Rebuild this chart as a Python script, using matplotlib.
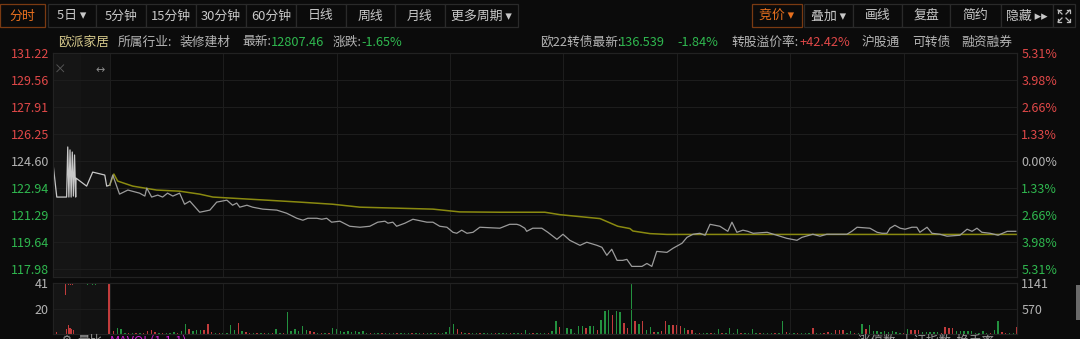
import matplotlib
matplotlib.use("Agg")
import matplotlib.pyplot as plt
from matplotlib.lines import Line2D
from matplotlib.patches import Rectangle

plt.rcParams["font.family"] = ["Noto Sans CJK SC", "DejaVu Sans"]
plt.rcParams["axes.unicode_minus"] = False

W, H = 1080, 339
BG = "#0b0b0b"
RED = "#e04848"
GREEN = "#2fb84f"
TXT = "#b4b4b4"
GRID = "#1d1d1d"
ORANGE = "#e8701e"
BAR_UP = "#c23c3c"
BAR_DN = "#23913f"

# ---- data ----
prev_close = 124.60
price_ticks = [117.98, 119.64, 121.29, 122.94, 124.60, 126.25, 127.91, 129.56, 131.22]
pct_labels = ["5.31%", "3.98%", "2.66%", "1.33%", "0.00%", "1.33%", "2.66%", "3.98%", "5.31%"]
vol_ticks_left = [20, 41]
vol_ticks_right = [570, 1141]

# call auction (9:15-9:30), minutes relative to 9:30
auction_t = [-15.1, -14.0, -11.4, -11.1, -10.8, -10.5, -10.2, -9.9, -9.6, -9.3, -9.0,
             -8.9, -6.1, -4.5, -1.3, -0.8, 0.0]
auction_p = [124.66, 122.39, 122.39, 125.46, 122.39, 125.28, 122.39, 125.15, 122.45, 124.97,
             122.39, 123.55, 123.06, 123.92, 123.74, 123.06, 123.12]

# intraday price (minutes after open)
price_t = [0, 0.8, 2.6, 4.8, 7.9, 9.3, 9.8, 11.1, 12.7, 14.0, 15.3, 16.7, 18.5, 19.8, 21.2,
           23.8, 26.5, 28.3, 31.0, 32.5, 33.6, 34.4, 36.3, 37.8, 40.5, 44.2, 46.8, 49.5,
           51.1, 52.4, 54.8, 56.1, 57.4, 58.7, 60.9, 63.5, 66.2, 68.8, 70.9, 72.8, 73.6,
           74.9, 75.9, 78.1, 80.2, 83.9, 85.5, 87.3, 89.2, 90.8, 91.8, 93.1, 94.5, 96.1,
           97.9, 103.2, 105.1, 105.8, 107.7, 108.5, 109.8, 110.3, 111.9, 114.3, 115.9,
           118.3, 119.9, 121.7, 124.4, 126.2, 128.9, 130.2, 131.5, 132.8, 134.2, 135.7,
           136.8, 138.1, 139.5, 140.8, 142.1, 143.4, 144.7, 147.4, 149.0, 151.4, 152.7,
           154.3, 156.1, 157.5, 158.8, 161.4, 163.5, 164.6, 165.9, 167.5, 168.8, 170.2,
           173.9, 176.5, 177.3, 179.1, 181.8, 183.1, 186.0, 187.9, 189.7, 193.2, 195.0,
           196.3, 197.7, 201.1, 203.0, 204.3, 205.6, 206.4, 207.7, 209.1, 210.4, 212.2,
           213.5, 214.3, 215.1, 216.2, 217.5, 219.6, 221.5, 224.9, 226.8, 228.1, 229.4,
           230.7, 232.9, 235.0, 237.4, 239.7]
price_p = [123.12, 123.74, 122.57, 122.82, 122.63, 122.45, 122.94, 122.39, 122.51, 122.39,
           122.63, 122.45, 122.63, 121.95, 122.14, 121.46, 121.59, 122.08, 122.20, 121.89,
           122.02, 121.77, 121.89, 121.77, 121.65, 121.59, 121.40, 121.09, 120.97, 121.09,
           121.09, 121.03, 121.09, 120.85, 120.91, 120.60, 120.54, 120.60, 120.85, 120.91,
           120.79, 120.85, 120.60, 120.79, 121.03, 120.85, 120.85, 120.60, 120.54, 120.23,
           120.17, 120.36, 120.17, 120.23, 120.54, 120.48, 120.66, 120.72, 120.72, 120.66,
           120.48, 120.29, 120.48, 120.48, 120.23, 119.80, 120.11, 119.74, 119.43, 119.62,
           119.43, 119.31, 118.82, 119.19, 118.51, 118.51, 118.57, 118.14, 118.14, 118.14,
           118.32, 118.14, 119.06, 119.00, 119.25, 119.56, 119.92, 120.11, 120.17, 120.05,
           120.72, 120.60, 120.29, 120.85, 120.23, 120.36, 120.29, 120.17, 120.23, 120.05,
           119.99, 119.86, 119.74, 119.92, 120.11, 119.99, 120.11, 120.11, 120.11, 120.29,
           120.54, 120.48, 120.23, 120.17, 120.17, 120.48, 120.66, 120.48, 120.42, 120.54,
           120.54, 120.23, 120.36, 120.54, 120.17, 120.11, 119.99, 120.05, 120.42, 120.29,
           120.48, 120.23, 120.17, 120.05, 120.29, 120.29]

# average price line
avg_t = [0, 1.1, 2.1, 6.1, 12.4, 18.5, 23.8, 27.3, 32.5, 41.5, 50.3, 59.0, 66.2, 85.5,
         92.6, 103.2, 115.1, 119.1, 129.7, 134.4, 137.6, 138.4, 142.9, 147.4, 240]
avg_p = [123.12, 123.80, 123.37, 123.06, 122.82, 122.75, 122.57, 122.39, 122.32, 122.20,
         122.08, 121.95, 121.77, 121.65, 121.48, 121.46, 121.46, 121.31, 121.07, 120.60,
         120.46, 120.31, 120.15, 120.10, 120.10]

# per-minute volume (minute 1..240) and direction (r = up, g = down)
volume = [
    69, 130, 107, 30, 25, 30, 20, 25, 30, 69,
    84, 40, 25, 20, 30, 25, 35, 30, 69, 222,
    115, 60, 84, 92, 84, 222, 50, 25, 30, 20,
    30, 207, 92, 253, 69, 50, 25, 20, 30, 25,
    20, 25, 30, 115, 20, 30, 498, 69, 107, 69,
    169, 92, 69, 50, 25, 30, 20, 25, 130, 115,
    60, 50, 60, 55, 60, 50, 60, 30, 25, 20,
    25, 20, 25, 30, 20, 25, 20, 25, 30, 20,
    25, 30, 20, 25, 30, 25, 20, 30, 40, 146,
    222, 115, 40, 30, 25, 30, 25, 20, 25, 30,
    25, 20, 30, 25, 20, 30, 25, 20, 25, 92,
    30, 25, 20, 30, 25, 30, 77, 283, 146, 50,
    130, 115, 30, 169, 169, 130, 169, 169, 92, 306,
    513, 536, 421, 513, 490, 245, 130, 1141, 283, 222,
    283, 92, 146, 50, 40, 69, 283, 207, 192, 207,
    169, 130, 92, 92, 30, 25, 30, 20, 25, 30,
    115, 30, 25, 130, 30, 115, 25, 30, 20, 115,
    30, 25, 20, 30, 25, 20, 30, 283, 50, 30,
    25, 20, 30, 25, 20, 130, 30, 25, 20, 50,
    30, 92, 92, 92, 30, 69, 30, 25, 222, 115,
    192, 69, 60, 50, 60, 55, 60, 50, 30, 25,
    115, 92, 92, 92, 50, 40, 50, 45, 50, 30,
    146, 130, 130, 69, 60, 69, 69, 60, 30, 25,
    69, 30, 25, 92, 283, 50, 30, 20, 25, 146,
]
vol_dir = (
    "rgggrgrgrr" "rrgrgggrgg" "rgggrrrgrg" "gggrgrrgrg"
    "rgrggrgggg" "ggrrgrgrgg" "ggggggggrg" "grgggrgggr"
    "ggrgggrggg" "grrgrggrgg" "grgggrggrg" "grgggrggrr"
    "gggggrggrg" "ggrggrrgrg" "rggrgrrgrr" "rgrrgrggrg"
    "grggggrggg" "grgggrggrg" "grgggrggrr" "grrrggrggr"
    "gggggggggr" "grrrgggggr" "rrrggggggg" "ggrggrrggr"
)

# auction volume (left scale)
auc_vol_t = [-14.0, -11.5, -11.0, -10.5, -10.0, -9.5, -0.2]
auc_vol = [2, 4, 7, 5, 4, 3, 41]
auc_vol_dir = "rrrrrrr"
# unmatched auction volume, hanging from the top of the panel
auc_gap_t = [-11.6, -10.8, -10.3, -9.8, -5.8, -4.5, -3.8]
auc_gap = [10, 2, 2, 2, 1.5, 1.5, 1.5]
auc_gap_dir = "rrrrggg"


def fx(x):
    return x / W


def fy(y):
    return 1 - y / H


def bar_colors(dirs):
    return [BAR_UP if d == "r" else BAR_DN for d in dirs]


fig = plt.figure(figsize=(W / 100, H / 100), dpi=100, facecolor=BG)

# ---- toolbar ----
left_buttons = [("分时", 0, 45), ("5日 ▾", 48, 96), ("5分钟", 96, 146), ("15分钟", 146, 196),
                ("30分钟", 196, 246), ("60分钟", 246, 296), ("日线", 296, 346), ("周线", 346, 395),
                ("月线", 395, 445), ("更多周期 ▾", 445, 518)]
right_buttons = [("竞价 ▾", 752, 802), ("叠加 ▾", 804, 853), ("画线", 853, 902), ("复盘", 902, 950),
                 ("简约", 950, 1001), ("隐藏 ▸▸", 1001, 1053), ("", 1053, 1075)]
for label, x0, x1 in left_buttons + right_buttons:
    active = label.startswith("分时") or label.startswith("竞价")
    fig.patches.append(Rectangle((fx(x0), fy(27)), fx(x1 - x0), 23 / H, transform=fig.transFigure,
                                 facecolor=BG, edgecolor=("#7a3a12" if active else "#2a2a2a"), lw=0.9))
    if label:
        fig.text(fx((x0 + x1) / 2), fy(16), label, color=(ORANGE if active else "#c8c8c8"),
                 fontsize=9.3, ha="center", va="center")

# full-screen icon: four small corner arrows
cx, cy = 1064, 16
for sx, sy in [(-1, -1), (1, -1), (-1, 1), (1, 1)]:
    fig.lines.append(Line2D([fx(cx + sx * 2), fx(cx + sx * 6)], [fy(cy + sy * 2), fy(cy + sy * 6)],
                            transform=fig.transFigure, color="#bdbdbd", lw=0.9))
    fig.lines.append(Line2D([fx(cx + sx * 3), fx(cx + sx * 6), fx(cx + sx * 6)],
                            [fy(cy + sy * 6), fy(cy + sy * 6), fy(cy + sy * 3)],
                            transform=fig.transFigure, color="#bdbdbd", lw=0.9))

# ---- info row ----
info_y = fy(42)
fig.text(fx(58), info_y, "欧派家居", color="#d6c98c", fontsize=9.2, va="center")
fig.text(fx(118), info_y, "所属行业:", color=TXT, fontsize=9.2, va="center")
fig.text(fx(180), info_y, "装修建材", color=TXT, fontsize=9.2, va="center")
fig.text(fx(242), info_y, "最新:", color=TXT, fontsize=9.2, va="center")
fig.text(fx(271), info_y, "12807.46", color=GREEN, fontsize=9.2, va="center")
fig.text(fx(333), info_y, "涨跌:", color=TXT, fontsize=9.2, va="center")
fig.text(fx(361), info_y, "-1.65%", color=GREEN, fontsize=9.2, va="center")
fig.text(fx(540), info_y, "欧22转债最新:", color=TXT, fontsize=9.2, va="center")
fig.text(fx(619), info_y, "136.539", color=GREEN, fontsize=9.2, va="center")
fig.text(fx(677), info_y, "-1.84%", color=GREEN, fontsize=9.2, va="center")
fig.text(fx(731), info_y, "转股溢价率:", color=TXT, fontsize=9.2, va="center")
fig.text(fx(799), info_y, "+42.42%", color=RED, fontsize=9.2, va="center")
fig.text(fx(862), info_y, "沪股通", color=TXT, fontsize=9.2, va="center")
fig.text(fx(912), info_y, "可转债", color=TXT, fontsize=9.2, va="center")
fig.text(fx(961), info_y, "融资融券", color=TXT, fontsize=9.2, va="center")

# ---- price panel ----
ax = fig.add_axes([fx(53), fy(277), fx(1017 - 53), (277 - 53) / H])
ax.set_facecolor(BG)
ax.set_xlim(-15, 240)
ax.set_ylim(117.49, 131.22)
ax.axvspan(-15, -7.6, color="#151515", lw=0)
ax.axvspan(-7.6, 0, color="#121212", lw=0)
for t in range(0, 240, 30):
    ax.axvline(t, color=GRID, lw=0.8)
for p in price_ticks:
    ax.axhline(p, color=GRID, lw=0.8)
ax.plot(auction_t, auction_p, color="#c8c8c8", lw=0.9)
ax.plot(avg_t, avg_p, color="#8a8a10", lw=1.1)
ax.plot(price_t, price_p, color="#9c9c9c", lw=0.9)

ax.set_yticks(price_ticks)
ax.set_yticklabels([f"{p:.2f}" for p in price_ticks])
ax.set_xticks([])
ax.tick_params(axis="y", length=0, pad=3, labelsize=9)


def level_color(p):
    if abs(p - prev_close) < 1e-6:
        return TXT
    return RED if p > prev_close else GREEN


for lab, p in zip(ax.get_yticklabels(), price_ticks):
    lab.set_color(level_color(p))

axr = ax.twinx()
axr.set_ylim(ax.get_ylim())
axr.set_yticks(price_ticks)
axr.set_yticklabels(pct_labels[::-1])
axr.tick_params(axis="y", length=0, pad=3, labelsize=9)
for lab, p in zip(axr.get_yticklabels(), price_ticks):
    lab.set_color(level_color(p))
for a in (ax, axr):
    for s in a.spines.values():
        s.set_color("#222222")
        s.set_linewidth(0.8)

ax.text(-13.2, 130.15, "×", color="#5a5a5a", fontsize=9, ha="center", va="center")
ax.text(-2.4, 130.15, "↔", color="#8a8a8a", fontsize=8, ha="center", va="center",
        family=["DejaVu Sans"])

# ---- volume panel ----
axv = fig.add_axes([fx(53), fy(334), fx(1017 - 53), (334 - 283) / H])
axv.set_facecolor(BG)
axv.set_xlim(-15, 240)
axv.set_ylim(0, 1141)
axv.axvspan(-15, -7.6, color="#151515", lw=0)
axv.axvspan(-7.6, 0, color="#121212", lw=0)
for t in range(0, 240, 30):
    axv.axvline(t, color=GRID, lw=0.8)
axv.axhline(570, color=GRID, lw=0.8)
axv.axhline(1141, color=GRID, lw=0.8)
minutes = list(range(1, len(volume) + 1))
axv.bar(minutes, volume, width=0.38, color=bar_colors(vol_dir), lw=0)
axv.set_xticks([])

# auction volume uses its own (left) scale
axa = axv.twinx()
axa.set_ylim(0, 41)
axa.bar(auc_vol_t, auc_vol, width=0.3, color=bar_colors(auc_vol_dir), lw=0)
axa.bar(auc_gap_t, auc_gap, bottom=[41 - g for g in auc_gap], width=0.3,
        color=bar_colors(auc_gap_dir), lw=0)

axv.yaxis.tick_right()
axv.set_yticks(vol_ticks_right)
axv.set_yticklabels([str(v) for v in vol_ticks_right])
axv.tick_params(axis="y", length=0, pad=3, labelsize=9, labelcolor=TXT)
axa.yaxis.tick_left()
axa.set_yticks(vol_ticks_left)
axa.set_yticklabels([str(v) for v in vol_ticks_left])
axa.tick_params(axis="y", length=0, pad=3, labelsize=9, labelcolor=TXT)
for a in (axv, axa):
    for s in a.spines.values():
        s.set_color("#222222")
        s.set_linewidth(0.8)

# indicator row, cut off by the bottom edge as in the screenshot
fig.text(fx(62), fy(335), "⚙", color="#9a9a9a", fontsize=8, va="top", family=["DejaVu Sans"])
fig.text(fx(77), fy(335), "量比", color="#9a9a9a", fontsize=9, va="top")
fig.text(fx(110), fy(335), "MAVOL(1,1,1)", color="#d020d0", fontsize=9, va="top")
fig.text(fx(858), fy(335), "涨停数  上证指数  换手率", color="#9a9a9a", fontsize=9, va="top")

# scrollbar
fig.patches.append(Rectangle((fx(1076), fy(320)), fx(4), 35 / H, transform=fig.transFigure,
                             facecolor="#6a6a6a", lw=0))

fig.savefig("out.png", dpi=100, facecolor=BG)
